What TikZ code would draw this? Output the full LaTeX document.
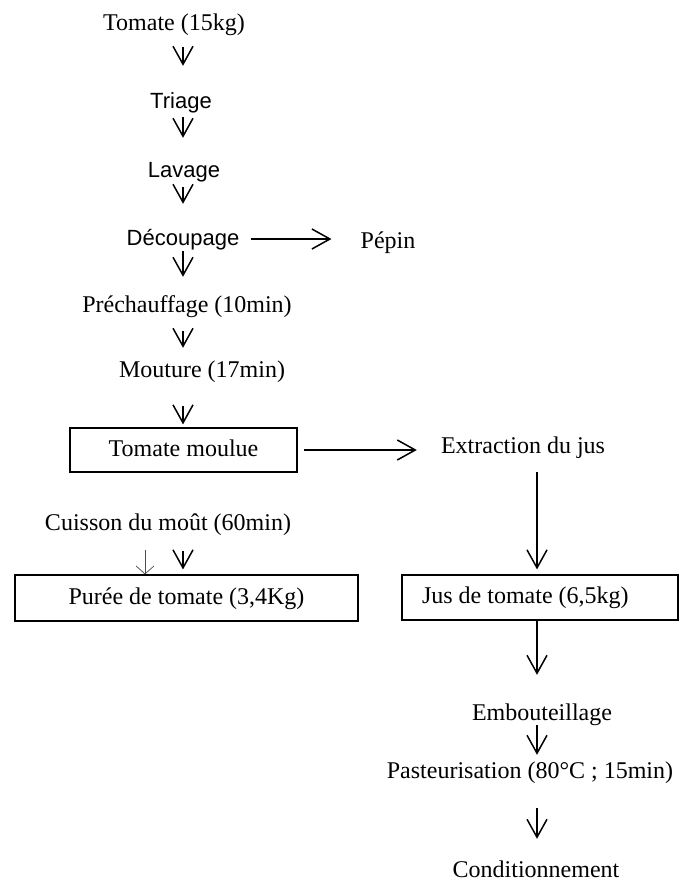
\documentclass[tikz,border=0pt]{standalone}
\usepackage{fontspec}
\setmainfont{Liberation Serif}
\newfontfamily\arialfont{Liberation Sans}
\usetikzlibrary{arrows.meta}
\tikzset{
  x=1pt, y=-1pt,
  lbl/.style={inner sep=0pt, text height=17pt, text depth=5pt, anchor=base, font=\fontsize{24}{26}\selectfont},
  slbl/.style={inner sep=0pt, text height=17pt, text depth=5pt, anchor=base, font=\arialfont\fontsize{22}{24}\selectfont},
  boxed/.style={draw, line width=1.2pt, inner sep=0pt, text height=17pt, text depth=5pt, font=\fontsize{24}{26}\selectfont},
  varr/.style={line width=1.5pt, -{Straight Barb[length=18pt,width=20pt,line width=1.5pt]}},
  thinarr/.style={line width=0.7pt, draw=black!70, -{Straight Barb[length=8pt,width=18pt,line width=0.7pt]}},
}
\begin{document}
\begin{tikzpicture}
\useasboundingbox (0,0) rectangle (680,883);
\coordinate (c1) at (183,0);
\coordinate (c2) at (537,0);
\coordinate (c3) at (145,0);
\node[lbl] (tom) at (174,31) {Tomate (15kg)};
\node[slbl] (tri) at (181,108) {Triage};
\node[slbl] (lav) at (184,177) {Lavage};
\node[slbl] (dec) at (183,245) {Découpage};
\node[lbl] (pep) at (388,248) {Pépin};
\node[lbl] (pre) at (187,312) {Préchauffage (10min)};
\node[lbl] (mou) at (202,377) {Mouture (17min)};
\node[boxed, minimum width=227pt, minimum height=44pt] (tml) at (183.5,450) {Tomate moulue};
\node[lbl] (ext) at (523,453) {Extraction du jus};
\node[lbl] (cui) at (168,530) {Cuisson du moût (60min)};
\node[boxed, minimum width=343pt, minimum height=46pt] (pur) at (186.5,598) {Purée de tomate (3,4Kg)};
\node[boxed, minimum height=45pt, inner xsep=20pt] (jus) at (540,597.5) {\makebox[236pt][l]{Jus de tomate (6,5kg)}};
\node[lbl] (emb) at (542,720) {Embouteillage};
\node[lbl] (pas) at (530,778) {Pasteurisation (80°C ; 15min)};
\node[lbl] (con) at (536,877) {Conditionnement};
% vertical arrows
\draw[varr, shorten <=11pt, shorten >=25pt] (tom.south -| c1) -- (tri.north -| c1);
\draw[varr, shorten <=4pt, shorten >=22pt] (tri.south -| c1) -- (lav.north -| c1);
\draw[varr, shorten <=5pt, shorten >=24pt] (lav.south -| c1) -- (dec.north -| c1);
\draw[varr, shorten <=1pt, shorten >=18pt] (dec.south -| c1) -- (pre.north -| c1);
\draw[varr, shorten <=14pt, shorten >=12pt] (pre.south -| c1) -- (mou.north -| c1);
\draw[varr, shorten <=24pt, shorten >=3pt] (mou.south -| c1) -- (tml.north -| c1);
\draw[varr, shorten <=16pt, shorten >=5pt] (cui.south -| c1) -- (pur.north -| c1);
\draw[thinarr, shorten <=15pt] (cui.south -| c3) -- (pur.north -| c3);
\draw[varr, shorten <=14pt, shorten >=5pt] (ext.south -| c2) -- (jus.north -| c2);
\draw[varr, shorten >=28pt] (jus.south -| c2) -- (emb.north -| c2);
\draw[varr, shorten >=6pt] (emb.south -| c2) -- (pas.north -| c2);
\draw[varr, shorten <=25pt, shorten >=21pt] (pas.south -| c2) -- (con.north -| c2);
% horizontal arrows
\draw[varr, shorten <=12pt, shorten >=29pt] (dec.east) -- (dec.east -| pep.west);
\draw[varr, shorten <=6pt, shorten >=24pt] (tml.east) -- (tml.east -| ext.west);
\end{tikzpicture}
\end{document}
